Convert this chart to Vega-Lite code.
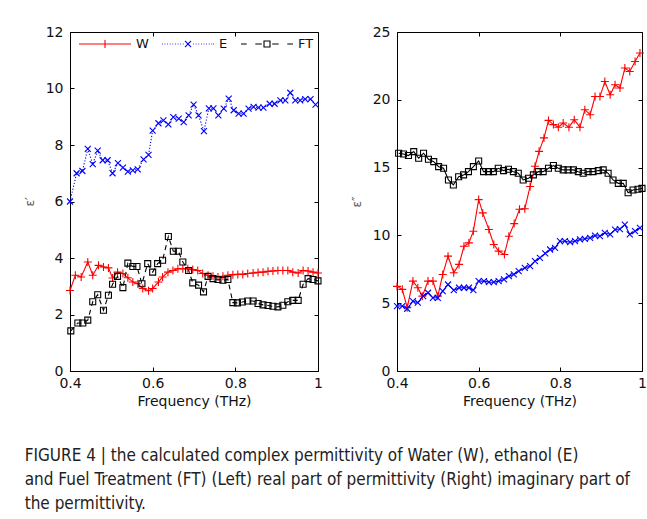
{
  "$schema": "https://vega.github.io/schema/vega-lite/v6.json",
  "padding": {"left": 22, "top": 17, "right": 0, "bottom": 0},
  "background": "white",
  "spacing": 24,
  "config": {
    "view": {"stroke": "#000", "strokeWidth": 1},
    "axis": {
      "labelFont": "DejaVu Sans", "labelFontSize": 14, "labelColor": "#111", "labelFlush": false,
      "titleFont": "DejaVu Sans", "titleFontSize": 14, "titleFontWeight": "normal", "titleColor": "#111",
      "domain": false, "grid": false, "tickColor": "#000", "tickSize": -4
    },
    "axisX": {"labelPadding": 9},
    "axisY": {"labelPadding": 11, "titlePadding": 9},
    "legend": {"padding": 0}
  },
  "title": {
    "text": ["FIGURE 4 | the calculated complex permittivity of Water (W), ethanol (E)", "and Fuel Treatment (FT) (Left) real part of permittivity (Right) imaginary part of", "the permittivity."],
    "orient": "bottom", "anchor": "start", "font": "Liberation Sans Narrow, DejaVu Sans Condensed, Liberation Sans", "fontSize": 17, "fontWeight": "normal", "color": "#222", "lineHeight": 24, "offset": 39, "dx": 2
  },
  "datasets": {
    "d": [
      {"p":"L","s":"W","f":0.400,"v":2.85},{"p":"L","s":"W","f":0.413,"v":3.39},{"p":"L","s":"W","f":0.427,"v":3.33},{"p":"L","s":"W","f":0.443,"v":3.86},{"p":"L","s":"W","f":0.455,"v":3.39},{"p":"L","s":"W","f":0.469,"v":3.74},{"p":"L","s":"W","f":0.481,"v":3.68},{"p":"L","s":"W","f":0.493,"v":3.65},{"p":"L","s":"W","f":0.503,"v":3.29},{"p":"L","s":"W","f":0.515,"v":3.50},{"p":"L","s":"W","f":0.528,"v":3.45},{"p":"L","s":"W","f":0.540,"v":3.30},{"p":"L","s":"W","f":0.552,"v":3.15},{"p":"L","s":"W","f":0.564,"v":3.09},{"p":"L","s":"W","f":0.576,"v":2.92},{"p":"L","s":"W","f":0.590,"v":2.84},{"p":"L","s":"W","f":0.600,"v":2.92},{"p":"L","s":"W","f":0.614,"v":3.15},{"p":"L","s":"W","f":0.624,"v":3.33},{"p":"L","s":"W","f":0.637,"v":3.50},{"p":"L","s":"W","f":0.649,"v":3.56},{"p":"L","s":"W","f":0.661,"v":3.62},{"p":"L","s":"W","f":0.673,"v":3.62},{"p":"L","s":"W","f":0.685,"v":3.62},{"p":"L","s":"W","f":0.697,"v":3.59},{"p":"L","s":"W","f":0.709,"v":3.56},{"p":"L","s":"W","f":0.721,"v":3.45},{"p":"L","s":"W","f":0.734,"v":3.39},{"p":"L","s":"W","f":0.746,"v":3.35},{"p":"L","s":"W","f":0.758,"v":3.33},{"p":"L","s":"W","f":0.770,"v":3.35},{"p":"L","s":"W","f":0.782,"v":3.39},{"p":"L","s":"W","f":0.794,"v":3.41},{"p":"L","s":"W","f":0.806,"v":3.42},{"p":"L","s":"W","f":0.818,"v":3.42},{"p":"L","s":"W","f":0.830,"v":3.45},{"p":"L","s":"W","f":0.843,"v":3.47},{"p":"L","s":"W","f":0.855,"v":3.49},{"p":"L","s":"W","f":0.867,"v":3.50},{"p":"L","s":"W","f":0.879,"v":3.53},{"p":"L","s":"W","f":0.891,"v":3.54},{"p":"L","s":"W","f":0.903,"v":3.56},{"p":"L","s":"W","f":0.915,"v":3.56},{"p":"L","s":"W","f":0.927,"v":3.56},{"p":"L","s":"W","f":0.939,"v":3.50},{"p":"L","s":"W","f":0.952,"v":3.47},{"p":"L","s":"W","f":0.964,"v":3.56},{"p":"L","s":"W","f":0.976,"v":3.54},{"p":"L","s":"W","f":0.988,"v":3.50},{"p":"L","s":"W","f":1.000,"v":3.47},
      {"p":"L","s":"E","f":0.400,"v":6.00},{"p":"L","s":"E","f":0.416,"v":7.00},{"p":"L","s":"E","f":0.430,"v":7.08},{"p":"L","s":"E","f":0.443,"v":7.86},{"p":"L","s":"E","f":0.455,"v":7.32},{"p":"L","s":"E","f":0.467,"v":7.80},{"p":"L","s":"E","f":0.479,"v":7.46},{"p":"L","s":"E","f":0.491,"v":7.46},{"p":"L","s":"E","f":0.503,"v":7.00},{"p":"L","s":"E","f":0.516,"v":7.36},{"p":"L","s":"E","f":0.528,"v":7.20},{"p":"L","s":"E","f":0.540,"v":7.06},{"p":"L","s":"E","f":0.552,"v":7.10},{"p":"L","s":"E","f":0.564,"v":7.14},{"p":"L","s":"E","f":0.578,"v":7.49},{"p":"L","s":"E","f":0.590,"v":7.65},{"p":"L","s":"E","f":0.600,"v":8.51},{"p":"L","s":"E","f":0.614,"v":8.77},{"p":"L","s":"E","f":0.626,"v":8.87},{"p":"L","s":"E","f":0.638,"v":8.73},{"p":"L","s":"E","f":0.650,"v":8.99},{"p":"L","s":"E","f":0.663,"v":8.93},{"p":"L","s":"E","f":0.675,"v":8.81},{"p":"L","s":"E","f":0.687,"v":9.05},{"p":"L","s":"E","f":0.699,"v":9.43},{"p":"L","s":"E","f":0.711,"v":9.05},{"p":"L","s":"E","f":0.724,"v":8.49},{"p":"L","s":"E","f":0.736,"v":9.30},{"p":"L","s":"E","f":0.747,"v":9.30},{"p":"L","s":"E","f":0.759,"v":9.05},{"p":"L","s":"E","f":0.772,"v":9.29},{"p":"L","s":"E","f":0.784,"v":9.64},{"p":"L","s":"E","f":0.796,"v":9.23},{"p":"L","s":"E","f":0.808,"v":9.11},{"p":"L","s":"E","f":0.820,"v":9.11},{"p":"L","s":"E","f":0.832,"v":9.29},{"p":"L","s":"E","f":0.844,"v":9.35},{"p":"L","s":"E","f":0.856,"v":9.32},{"p":"L","s":"E","f":0.868,"v":9.32},{"p":"L","s":"E","f":0.883,"v":9.46},{"p":"L","s":"E","f":0.895,"v":9.46},{"p":"L","s":"E","f":0.909,"v":9.58},{"p":"L","s":"E","f":0.921,"v":9.58},{"p":"L","s":"E","f":0.933,"v":9.85},{"p":"L","s":"E","f":0.945,"v":9.58},{"p":"L","s":"E","f":0.957,"v":9.58},{"p":"L","s":"E","f":0.969,"v":9.62},{"p":"L","s":"E","f":0.982,"v":9.62},{"p":"L","s":"E","f":0.994,"v":9.43},
      {"p":"L","s":"FT","f":0.402,"v":1.42},{"p":"L","s":"FT","f":0.419,"v":1.70},{"p":"L","s":"FT","f":0.431,"v":1.70},{"p":"L","s":"FT","f":0.443,"v":1.80},{"p":"L","s":"FT","f":0.455,"v":2.45},{"p":"L","s":"FT","f":0.467,"v":2.70},{"p":"L","s":"FT","f":0.481,"v":2.15},{"p":"L","s":"FT","f":0.493,"v":2.68},{"p":"L","s":"FT","f":0.503,"v":3.07},{"p":"L","s":"FT","f":0.515,"v":3.35},{"p":"L","s":"FT","f":0.528,"v":2.95},{"p":"L","s":"FT","f":0.540,"v":3.82},{"p":"L","s":"FT","f":0.552,"v":3.70},{"p":"L","s":"FT","f":0.562,"v":3.70},{"p":"L","s":"FT","f":0.574,"v":3.09},{"p":"L","s":"FT","f":0.588,"v":3.80},{"p":"L","s":"FT","f":0.600,"v":3.50},{"p":"L","s":"FT","f":0.612,"v":3.80},{"p":"L","s":"FT","f":0.624,"v":3.92},{"p":"L","s":"FT","f":0.638,"v":4.76},{"p":"L","s":"FT","f":0.650,"v":4.24},{"p":"L","s":"FT","f":0.662,"v":4.24},{"p":"L","s":"FT","f":0.673,"v":3.86},{"p":"L","s":"FT","f":0.687,"v":3.56},{"p":"L","s":"FT","f":0.697,"v":3.12},{"p":"L","s":"FT","f":0.711,"v":3.04},{"p":"L","s":"FT","f":0.723,"v":2.80},{"p":"L","s":"FT","f":0.734,"v":3.35},{"p":"L","s":"FT","f":0.746,"v":3.27},{"p":"L","s":"FT","f":0.758,"v":3.24},{"p":"L","s":"FT","f":0.770,"v":3.21},{"p":"L","s":"FT","f":0.782,"v":3.24},{"p":"L","s":"FT","f":0.794,"v":2.42},{"p":"L","s":"FT","f":0.805,"v":2.41},{"p":"L","s":"FT","f":0.817,"v":2.44},{"p":"L","s":"FT","f":0.830,"v":2.48},{"p":"L","s":"FT","f":0.843,"v":2.48},{"p":"L","s":"FT","f":0.855,"v":2.39},{"p":"L","s":"FT","f":0.867,"v":2.34},{"p":"L","s":"FT","f":0.879,"v":2.32},{"p":"L","s":"FT","f":0.891,"v":2.29},{"p":"L","s":"FT","f":0.903,"v":2.27},{"p":"L","s":"FT","f":0.915,"v":2.33},{"p":"L","s":"FT","f":0.927,"v":2.45},{"p":"L","s":"FT","f":0.939,"v":2.50},{"p":"L","s":"FT","f":0.952,"v":2.50},{"p":"L","s":"FT","f":0.964,"v":3.07},{"p":"L","s":"FT","f":0.976,"v":3.27},{"p":"L","s":"FT","f":0.988,"v":3.24},{"p":"L","s":"FT","f":1.000,"v":3.19},
      {"p":"R","s":"W","f":0.400,"v":6.24},{"p":"R","s":"W","f":0.413,"v":6.02},{"p":"R","s":"W","f":0.425,"v":4.67},{"p":"R","s":"W","f":0.439,"v":6.63},{"p":"R","s":"W","f":0.451,"v":6.14},{"p":"R","s":"W","f":0.462,"v":5.52},{"p":"R","s":"W","f":0.476,"v":6.63},{"p":"R","s":"W","f":0.488,"v":6.63},{"p":"R","s":"W","f":0.500,"v":5.52},{"p":"R","s":"W","f":0.512,"v":7.12},{"p":"R","s":"W","f":0.525,"v":8.47},{"p":"R","s":"W","f":0.539,"v":7.25},{"p":"R","s":"W","f":0.552,"v":7.86},{"p":"R","s":"W","f":0.564,"v":9.20},{"p":"R","s":"W","f":0.576,"v":9.45},{"p":"R","s":"W","f":0.587,"v":10.31},{"p":"R","s":"W","f":0.600,"v":12.64},{"p":"R","s":"W","f":0.610,"v":11.66},{"p":"R","s":"W","f":0.625,"v":10.43},{"p":"R","s":"W","f":0.637,"v":9.33},{"p":"R","s":"W","f":0.649,"v":8.84},{"p":"R","s":"W","f":0.663,"v":8.59},{"p":"R","s":"W","f":0.674,"v":9.94},{"p":"R","s":"W","f":0.687,"v":10.87},{"p":"R","s":"W","f":0.700,"v":11.93},{"p":"R","s":"W","f":0.713,"v":11.97},{"p":"R","s":"W","f":0.726,"v":13.61},{"p":"R","s":"W","f":0.738,"v":15.10},{"p":"R","s":"W","f":0.748,"v":16.20},{"p":"R","s":"W","f":0.760,"v":17.19},{"p":"R","s":"W","f":0.771,"v":18.48},{"p":"R","s":"W","f":0.783,"v":18.17},{"p":"R","s":"W","f":0.795,"v":17.98},{"p":"R","s":"W","f":0.807,"v":18.29},{"p":"R","s":"W","f":0.821,"v":17.98},{"p":"R","s":"W","f":0.834,"v":18.53},{"p":"R","s":"W","f":0.848,"v":17.98},{"p":"R","s":"W","f":0.860,"v":19.27},{"p":"R","s":"W","f":0.873,"v":18.90},{"p":"R","s":"W","f":0.885,"v":20.24},{"p":"R","s":"W","f":0.897,"v":20.24},{"p":"R","s":"W","f":0.909,"v":21.35},{"p":"R","s":"W","f":0.922,"v":20.37},{"p":"R","s":"W","f":0.934,"v":21.11},{"p":"R","s":"W","f":0.946,"v":20.87},{"p":"R","s":"W","f":0.958,"v":22.34},{"p":"R","s":"W","f":0.970,"v":22.09},{"p":"R","s":"W","f":0.983,"v":22.83},{"p":"R","s":"W","f":0.995,"v":23.45},
      {"p":"R","s":"E","f":0.400,"v":4.79},{"p":"R","s":"E","f":0.413,"v":4.79},{"p":"R","s":"E","f":0.425,"v":4.59},{"p":"R","s":"E","f":0.439,"v":5.15},{"p":"R","s":"E","f":0.451,"v":5.04},{"p":"R","s":"E","f":0.464,"v":5.52},{"p":"R","s":"E","f":0.476,"v":5.77},{"p":"R","s":"E","f":0.488,"v":5.40},{"p":"R","s":"E","f":0.500,"v":5.40},{"p":"R","s":"E","f":0.512,"v":5.89},{"p":"R","s":"E","f":0.525,"v":6.38},{"p":"R","s":"E","f":0.539,"v":5.96},{"p":"R","s":"E","f":0.552,"v":6.14},{"p":"R","s":"E","f":0.564,"v":6.14},{"p":"R","s":"E","f":0.576,"v":6.14},{"p":"R","s":"E","f":0.587,"v":5.96},{"p":"R","s":"E","f":0.600,"v":6.63},{"p":"R","s":"E","f":0.613,"v":6.63},{"p":"R","s":"E","f":0.625,"v":6.55},{"p":"R","s":"E","f":0.637,"v":6.55},{"p":"R","s":"E","f":0.649,"v":6.63},{"p":"R","s":"E","f":0.662,"v":6.75},{"p":"R","s":"E","f":0.674,"v":7.00},{"p":"R","s":"E","f":0.686,"v":7.12},{"p":"R","s":"E","f":0.698,"v":7.36},{"p":"R","s":"E","f":0.713,"v":7.61},{"p":"R","s":"E","f":0.726,"v":7.73},{"p":"R","s":"E","f":0.738,"v":8.10},{"p":"R","s":"E","f":0.750,"v":8.34},{"p":"R","s":"E","f":0.763,"v":8.67},{"p":"R","s":"E","f":0.775,"v":8.96},{"p":"R","s":"E","f":0.787,"v":9.08},{"p":"R","s":"E","f":0.799,"v":9.57},{"p":"R","s":"E","f":0.811,"v":9.57},{"p":"R","s":"E","f":0.824,"v":9.50},{"p":"R","s":"E","f":0.836,"v":9.57},{"p":"R","s":"E","f":0.848,"v":9.70},{"p":"R","s":"E","f":0.860,"v":9.75},{"p":"R","s":"E","f":0.873,"v":9.82},{"p":"R","s":"E","f":0.885,"v":9.99},{"p":"R","s":"E","f":0.897,"v":9.94},{"p":"R","s":"E","f":0.909,"v":10.19},{"p":"R","s":"E","f":0.922,"v":10.07},{"p":"R","s":"E","f":0.934,"v":10.43},{"p":"R","s":"E","f":0.946,"v":10.47},{"p":"R","s":"E","f":0.958,"v":10.80},{"p":"R","s":"E","f":0.970,"v":10.07},{"p":"R","s":"E","f":0.983,"v":10.31},{"p":"R","s":"E","f":0.995,"v":10.56},
      {"p":"R","s":"FT","f":0.404,"v":16.06},{"p":"R","s":"FT","f":0.416,"v":16.00},{"p":"R","s":"FT","f":0.428,"v":15.89},{"p":"R","s":"FT","f":0.441,"v":16.18},{"p":"R","s":"FT","f":0.453,"v":15.69},{"p":"R","s":"FT","f":0.465,"v":16.06},{"p":"R","s":"FT","f":0.477,"v":15.62},{"p":"R","s":"FT","f":0.490,"v":15.44},{"p":"R","s":"FT","f":0.502,"v":15.07},{"p":"R","s":"FT","f":0.514,"v":14.95},{"p":"R","s":"FT","f":0.526,"v":14.09},{"p":"R","s":"FT","f":0.538,"v":13.72},{"p":"R","s":"FT","f":0.551,"v":14.33},{"p":"R","s":"FT","f":0.563,"v":14.46},{"p":"R","s":"FT","f":0.575,"v":14.70},{"p":"R","s":"FT","f":0.587,"v":15.07},{"p":"R","s":"FT","f":0.600,"v":15.49},{"p":"R","s":"FT","f":0.612,"v":14.70},{"p":"R","s":"FT","f":0.624,"v":14.70},{"p":"R","s":"FT","f":0.636,"v":14.70},{"p":"R","s":"FT","f":0.648,"v":14.95},{"p":"R","s":"FT","f":0.661,"v":14.78},{"p":"R","s":"FT","f":0.673,"v":14.88},{"p":"R","s":"FT","f":0.685,"v":14.70},{"p":"R","s":"FT","f":0.697,"v":14.58},{"p":"R","s":"FT","f":0.709,"v":14.09},{"p":"R","s":"FT","f":0.722,"v":14.21},{"p":"R","s":"FT","f":0.734,"v":14.46},{"p":"R","s":"FT","f":0.746,"v":14.70},{"p":"R","s":"FT","f":0.758,"v":14.70},{"p":"R","s":"FT","f":0.771,"v":14.95},{"p":"R","s":"FT","f":0.783,"v":15.15},{"p":"R","s":"FT","f":0.795,"v":14.95},{"p":"R","s":"FT","f":0.807,"v":14.83},{"p":"R","s":"FT","f":0.819,"v":14.83},{"p":"R","s":"FT","f":0.832,"v":14.83},{"p":"R","s":"FT","f":0.844,"v":14.70},{"p":"R","s":"FT","f":0.856,"v":14.58},{"p":"R","s":"FT","f":0.868,"v":14.70},{"p":"R","s":"FT","f":0.880,"v":14.70},{"p":"R","s":"FT","f":0.893,"v":14.78},{"p":"R","s":"FT","f":0.905,"v":14.83},{"p":"R","s":"FT","f":0.917,"v":14.58},{"p":"R","s":"FT","f":0.929,"v":14.09},{"p":"R","s":"FT","f":0.942,"v":13.84},{"p":"R","s":"FT","f":0.954,"v":13.84},{"p":"R","s":"FT","f":0.966,"v":13.15},{"p":"R","s":"FT","f":0.978,"v":13.35},{"p":"R","s":"FT","f":0.990,"v":13.40},{"p":"R","s":"FT","f":1.000,"v":13.47}
    ]
  },
  "hconcat": [
    {
      "width": 248, "height": 339,
      "data": {"name": "d"},
      "transform": [{"filter": "datum.p === 'L'"}],
      "resolve": {"axis": {"x": "independent", "y": "independent"}},
      "encoding": {
        "x": {"field": "f", "type": "quantitative", "scale": {"domain": [0.4, 1], "nice": false, "zero": false}, "axis": {"values": [0.4, 0.6, 0.8, 1], "format": "~g", "title": "Frequency (THz)"}},
        "y": {"field": "v", "type": "quantitative", "scale": {"domain": [0, 12], "nice": false}, "axis": {"values": [0, 2, 4, 6, 8, 10, 12], "title": "ε′", "titleFontSize": 12, "titleColor": "#555"}},
        "color": {"field": "s", "type": "nominal", "scale": {"domain": ["W", "E", "FT"], "range": ["#ff0000", "#0000ff", "#000000"]},
          "legend": {"orient": "none", "legendX": 8, "legendY": -15, "direction": "horizontal", "title": null,
            "symbolSize": 2704, "symbolStrokeWidth": 1.1, "labelFont": "DejaVu Sans", "labelFontSize": 13, "labelColor": "#111", "labelOffset": 4, "columnPadding": 10,
            "encode": {"symbols": {"update": {
              "shape": {"signal": "datum.value === 'W' ? 'M-1,0L1,0M0,-0.154L0,0.154' : datum.value === 'E' ? 'M-1,0L-0.97,0M-0.9,0L-0.87,0M-0.8,0L-0.77,0M-0.7,0L-0.67,0M-0.6,0L-0.57,0M-0.5,0L-0.47,0M-0.4,0L-0.37,0M-0.3,0L-0.27,0M-0.2,0L-0.17,0M0.2,0L0.23,0M0.3,0L0.33,0M0.4,0L0.43,0M0.5,0L0.53,0M0.6,0L0.63,0M0.7,0L0.73,0M0.8,0L0.83,0M0.9,0L0.93,0M0.97,0L1,0M-0.115,-0.115L0.115,0.115M-0.115,0.115L0.115,-0.115' : 'M-1,0L-0.78,0M-0.45,0L-0.2,0M0.2,0L0.45,0M0.78,0L1,0M-0.115,-0.115L0.115,-0.115L0.115,0.115L-0.115,0.115Z'"},
              "strokeDash": {"value": [1, 0]},
              "fill": {"value": "transparent"}
            }}}
          }}
      },
      "layer": [
        {"mark": {"type": "line", "strokeWidth": 1.1},
         "encoding": {"strokeDash": {"condition": [{"test": "datum.s === 'E'", "value": [1.2, 1.8]}, {"test": "datum.s === 'FT'", "value": [5, 4]}], "value": [1, 0]}}},
        {"mark": {"type": "point", "filled": false, "size": 64, "strokeWidth": 1.1, "opacity": 1},
         "encoding": {
           "x": {"field": "f", "type": "quantitative", "axis": null},
           "y": {"field": "v", "type": "quantitative", "axis": null},
           "shape": {"condition": [{"test": "datum.s === 'W'", "value": "M-1,0L1,0M0,-1L0,1"}, {"test": "datum.s === 'E'", "value": "M-0.75,-0.75L0.75,0.75M-0.75,0.75L0.75,-0.75"}], "value": "M-0.75,-0.75L0.75,-0.75L0.75,0.75L-0.75,0.75Z"}}},
        {"mark": {"type": "point", "opacity": 0, "size": 1},
         "encoding": {
           "x": {"field": "f", "type": "quantitative", "axis": {"orient": "top", "values": [0.4, 0.6, 0.8, 1], "labels": false, "title": null}},
           "y": {"field": "v", "type": "quantitative", "axis": {"orient": "right", "values": [0, 2, 4, 6, 8, 10, 12], "labels": false, "title": null}},
           "color": {"value": "#000"}}}
      ]
    },
    {
      "width": 245, "height": 339,
      "data": {"name": "d"},
      "transform": [{"filter": "datum.p === 'R'"}],
      "resolve": {"axis": {"x": "independent", "y": "independent"}},
      "encoding": {
        "x": {"field": "f", "type": "quantitative", "scale": {"domain": [0.4, 1], "nice": false, "zero": false}, "axis": {"values": [0.4, 0.6, 0.8, 1], "format": "~g", "title": "Frequency (THz)"}},
        "y": {"field": "v", "type": "quantitative", "scale": {"domain": [0, 25], "nice": false}, "axis": {"values": [0, 5, 10, 15, 20, 25], "title": "ε″", "titleFontSize": 12, "titleColor": "#555"}},
        "color": {"field": "s", "type": "nominal", "scale": {"domain": ["W", "E", "FT"], "range": ["#ff0000", "#0000ff", "#000000"]}, "legend": null}
      },
      "layer": [
        {"mark": {"type": "line", "strokeWidth": 1.1}},
        {"mark": {"type": "point", "filled": false, "size": 64, "strokeWidth": 1.1, "opacity": 1},
         "encoding": {
           "x": {"field": "f", "type": "quantitative", "axis": null},
           "y": {"field": "v", "type": "quantitative", "axis": null},
           "shape": {"condition": [{"test": "datum.s === 'W'", "value": "M-1,0L1,0M0,-1L0,1"}, {"test": "datum.s === 'E'", "value": "M-0.75,-0.75L0.75,0.75M-0.75,0.75L0.75,-0.75"}], "value": "M-0.75,-0.75L0.75,-0.75L0.75,0.75L-0.75,0.75Z"}}},
        {"mark": {"type": "point", "opacity": 0, "size": 1},
         "encoding": {
           "x": {"field": "f", "type": "quantitative", "axis": {"orient": "top", "values": [0.4, 0.6, 0.8, 1], "labels": false, "title": null}},
           "y": {"field": "v", "type": "quantitative", "axis": {"orient": "right", "values": [0, 5, 10, 15, 20, 25], "labels": false, "title": null}},
           "color": {"value": "#000"}}}
      ]
    }
  ]
}
